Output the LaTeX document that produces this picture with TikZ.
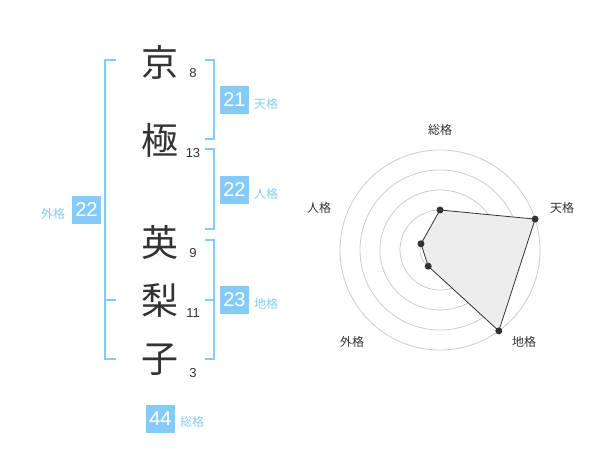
\documentclass[tikz,border=0pt]{standalone}
\usepackage{fontspec}
\setmainfont{Liberation Sans}
\newfontfamily\jp{Noto Sans CJK JP}
\definecolor{lb}{HTML}{85CBF9}
\definecolor{dk}{HTML}{333333}
\begin{document}
\begin{tikzpicture}[x=1pt,y=-1pt,
 kanji/.style={font=\jp\fontsize{37}{37}\selectfont, text=dk, inner sep=0},
 strokes/.style={font=\fontsize{13}{13}\selectfont, text=dk, inner sep=0},
 numbox/.style={fill=lb, text=white, minimum width=29pt, minimum height=28pt, inner sep=0, font=\fontsize{20}{20}\selectfont},
 blabel/.style={font=\jp\fontsize{12}{12}\selectfont, text=lb, inner sep=0},
 bracket/.style={draw=lb, line width=2pt},
 ring/.style={draw=black!20, line width=0.8pt},
 rlabel/.style={font=\jp\fontsize{12}{12}\selectfont, text=dk, inner sep=0},
 dot/.style={circle, fill=dk, inner sep=0, minimum size=7pt}]
\useasboundingbox (0,0) rectangle (600,470);
% characters
\node[kanji] (k1) at (160,62) {京};
\node[kanji] (k2) at (160,140) {極};
\node[kanji] (k3) at (160,242) {英};
\node[kanji] (k4) at (160,300) {梨};
\node[kanji] (k5) at (160,360) {子};
\node[strokes] (s1) at (193,73) {8};
\node[strokes] (s2) at (193,153) {13};
\node[strokes] (s3) at (193,253) {9};
\node[strokes] (s4) at (193,313) {11};
\node[strokes] (s5) at (193,373) {3};
% left bracket
\draw[bracket] (116,60) -- (105,60) -- (105,359) -- (116,359);
\draw[bracket] (105,300) -- (116,300);
% right brackets
\draw[bracket] (205,60) -- (214,60) -- (214,139) -- (205,139);
\draw[bracket] (205,149) -- (214,149) -- (214,229) -- (205,229);
\draw[bracket] (205,240) -- (214,240) -- (214,359) -- (205,359);
\draw[bracket] (205,300) -- (214,300);
% boxes
\node[numbox] (ten) at (234.5,100) {21};
\node[blabel] (tenl) at (266,104) {天格};
\node[numbox] (jin) at (234.5,190) {22};
\node[blabel] (jinl) at (266,194) {人格};
\node[numbox] (chi) at (234.5,300) {23};
\node[blabel] (chil) at (266,304) {地格};
\node[numbox] (gai) at (86.5,210) {22};
\node[blabel] (gail) at (53,214) {外格};
\node[numbox] (sou) at (160.5,419) {44};
\node[blabel] (soul) at (192,422) {総格};
% radar
\coordinate (c) at (440,250);
\foreach \r in {20,40,60,80,100} \draw[ring] (c) circle[radius=\r];
\fill[black!20] (c) circle[radius=3.5];
\coordinate (p1) at (440,210);
\coordinate (p2) at (535.1,219.1);
\coordinate (p3) at (498.8,330.9);
\coordinate (p4) at (428.2,266.2);
\coordinate (p5) at (421,243.8);
\draw[fill=black!7, draw=dk, line width=0.8pt] (p1) -- (p2) -- (p3) -- (p4) -- (p5) -- cycle;
\foreach \p in {p1,p2,p3,p4,p5} \node[dot] at (\p) {};
\node[rlabel] (r1) at (440,130) {総格};
\node[rlabel] (r2) at (562,208) {天格};
\node[rlabel] (r3) at (319,208) {人格};
\node[rlabel] (r4) at (352,342) {外格};
\node[rlabel] (r5) at (524,342) {地格};
\end{tikzpicture}
\end{document}
